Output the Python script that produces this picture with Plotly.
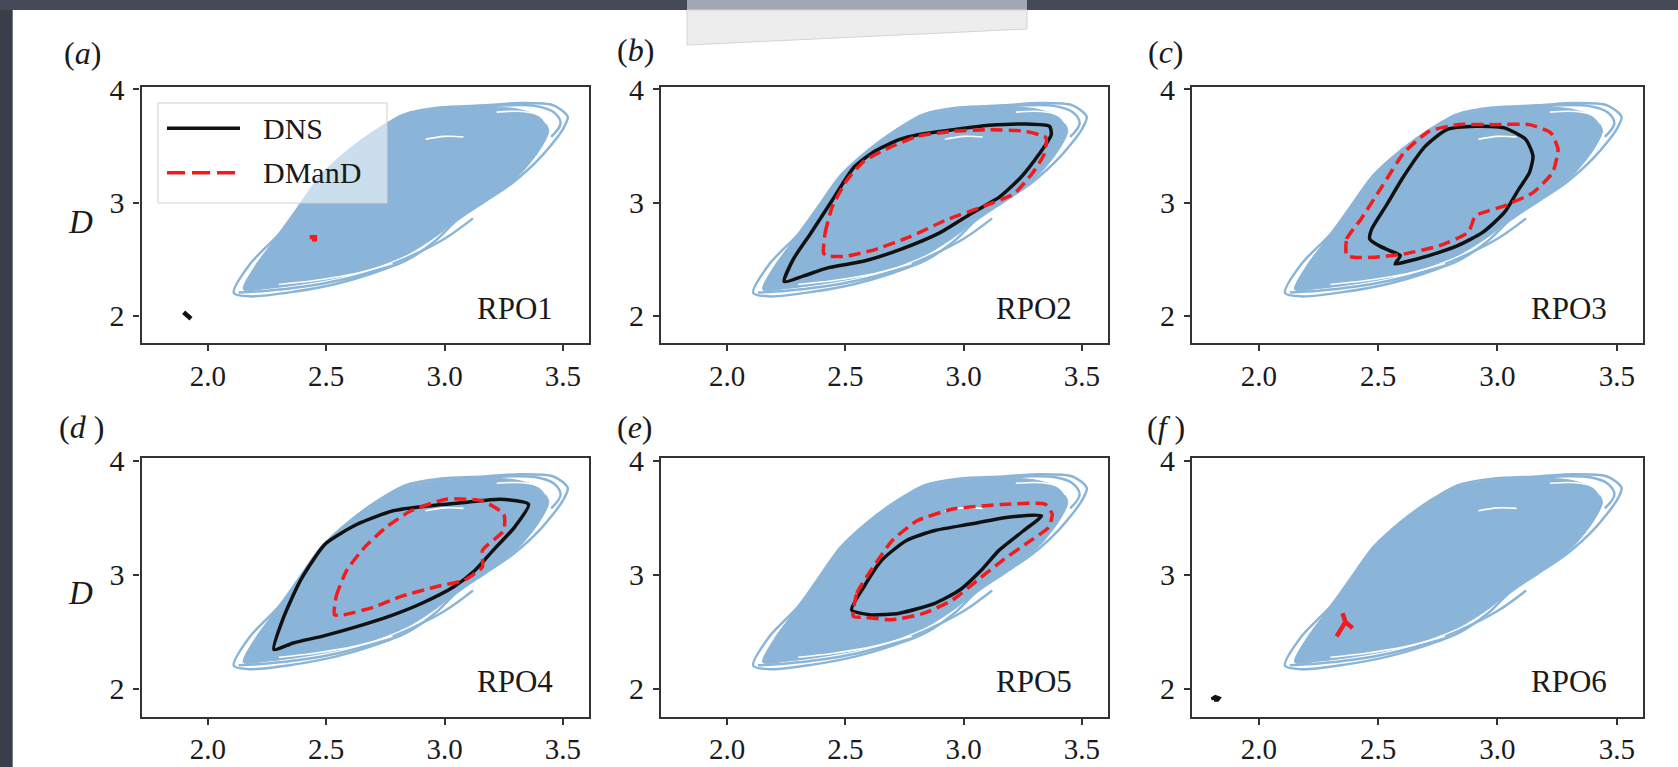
import plotly.graph_objects as go
from plotly.subplots import make_subplots

W, H = 1678, 767

# ---------------- data ----------------
X_TICKS = [2.0, 2.5, 3.0, 3.5]
X_TICK_TEXT = ["2.0", "2.5", "3.0", "3.5"]
Y_TICKS = [2, 3, 4]
Y_TICK_TEXT = ["2", "3", "4"]
X_RANGE = [1.72, 3.61]
Y_RANGE = [1.755, 4.022]

PANEL_LABELS = ["(<i>a</i>)", "(<i>b</i>)", "(<i>c</i>)", "(<i>d</i> )", "(<i>e</i>)", "(<i>f</i> )"]
RPO_NAMES = ["RPO1", "RPO2", "RPO3", "RPO4", "RPO5", "RPO6"]
SERIES_NAMES = ["DNS", "DManD"]

# chaotic DNS attractor (envelope, dense core, inner loops, white gaps)
ATTR_OUT_X = [2.11, 2.18, 2.30, 2.38, 2.48, 2.60, 2.72, 2.83, 2.98, 3.17, 3.32, 3.46, 3.52, 3.50, 3.41, 3.29, 3.17, 3.05, 2.96, 2.84, 2.69, 2.54, 2.36, 2.18, 2.11]
ATTR_OUT_Y = [2.20, 2.46, 2.72, 2.95, 3.24, 3.47, 3.65, 3.78, 3.84, 3.86, 3.88, 3.86, 3.76, 3.65, 3.41, 3.18, 3.01, 2.84, 2.66, 2.49, 2.37, 2.28, 2.21, 2.17, 2.20]
ATTR_CORE_X = [2.15, 2.20, 2.30, 2.38, 2.48, 2.60, 2.72, 2.83, 2.98, 3.15, 3.30, 3.40, 3.44, 3.40, 3.31, 3.19, 3.07, 2.97, 2.85, 2.71, 2.56, 2.40, 2.25, 2.15]
ATTR_CORE_Y = [2.23, 2.44, 2.72, 2.95, 3.24, 3.47, 3.65, 3.77, 3.83, 3.845, 3.83, 3.76, 3.64, 3.46, 3.23, 3.04, 2.88, 2.71, 2.55, 2.43, 2.34, 2.28, 2.24, 2.23]
ATTR_MID_X = [2.13, 2.25, 2.40, 2.55, 2.70, 2.85, 3.00, 3.12]
ATTR_MID_Y = [2.205, 2.22, 2.255, 2.31, 2.395, 2.52, 2.68, 2.86]
ATTR_LOBE_X = [3.12, 3.26, 3.38, 3.46, 3.49, 3.45]
ATTR_LOBE_Y = [3.835, 3.86, 3.855, 3.80, 3.70, 3.58]
GAP1_X = [3.22, 3.33, 3.40, 3.43]
GAP1_Y = [3.80, 3.805, 3.77, 3.70]
GAP2_X = [2.30, 2.45, 2.62, 2.78]
GAP2_Y = [2.275, 2.31, 2.37, 2.46]
GAP3_X = [2.92, 3.00, 3.08]
GAP3_Y = [3.56, 3.585, 3.58]

# periodic orbits: DNS (black) and DManD (red dashed), one pair per panel
DNS_A_X = [1.898, 1.910, 1.922, 1.929]
DNS_A_Y = [2.030, 2.012, 1.990, 1.972]
DMD_A_X = [2.440, 2.452, 2.452, 2.440, 2.440]
DMD_A_Y = [2.675, 2.675, 2.692, 2.692, 2.675]

DNS_B_X = [2.241, 2.279, 2.354, 2.444, 2.535, 2.625, 2.730, 2.806, 2.956, 3.107, 3.258, 3.363, 3.370, 3.318, 3.242, 3.152, 3.032, 2.896, 2.730, 2.580, 2.429, 2.324, 2.241]
DNS_B_Y = [2.300, 2.497, 2.730, 3.020, 3.310, 3.456, 3.558, 3.600, 3.645, 3.683, 3.695, 3.674, 3.600, 3.427, 3.224, 3.050, 2.904, 2.730, 2.584, 2.483, 2.424, 2.352, 2.300]
DMD_B_X = [2.407, 2.414, 2.444, 2.505, 2.580, 2.685, 2.806, 2.956, 3.107, 3.258, 3.348, 3.340, 3.288, 3.212, 3.077, 2.926, 2.776, 2.625, 2.505, 2.422, 2.407]
DMD_B_Y = [2.555, 2.730, 2.962, 3.195, 3.369, 3.485, 3.587, 3.631, 3.645, 3.631, 3.573, 3.427, 3.253, 3.078, 2.962, 2.846, 2.700, 2.584, 2.526, 2.526, 2.555]

DNS_C_X = [2.465, 2.473, 2.533, 2.608, 2.698, 2.788, 2.908, 3.029, 3.119, 3.149, 3.134, 3.089, 3.029, 2.938, 2.833, 2.713, 2.608, 2.571, 2.593, 2.548, 2.503, 2.465]
DNS_C_Y = [2.677, 2.765, 2.971, 3.235, 3.499, 3.645, 3.674, 3.660, 3.557, 3.410, 3.264, 3.117, 2.912, 2.736, 2.619, 2.531, 2.472, 2.457, 2.530, 2.575, 2.619, 2.677]
DMD_C_X = [2.368, 2.368, 2.428, 2.518, 2.608, 2.713, 2.833, 2.983, 3.134, 3.224, 3.254, 3.231, 3.149, 3.029, 2.908, 2.878, 2.758, 2.608, 2.488, 2.398, 2.368]
DMD_C_Y = [2.531, 2.677, 2.853, 3.147, 3.440, 3.630, 3.689, 3.689, 3.689, 3.616, 3.469, 3.264, 3.088, 2.971, 2.883, 2.736, 2.619, 2.545, 2.516, 2.516, 2.531]

DNS_D_X = [2.279, 2.316, 2.392, 2.497, 2.633, 2.783, 2.934, 3.084, 3.235, 3.355, 3.295, 3.205, 3.129, 3.039, 2.904, 2.783, 2.633, 2.482, 2.361, 2.279]
DNS_D_Y = [2.342, 2.603, 2.951, 3.270, 3.443, 3.559, 3.603, 3.632, 3.661, 3.617, 3.414, 3.212, 3.038, 2.893, 2.748, 2.646, 2.545, 2.458, 2.400, 2.342]
DMD_D_X = [2.535, 2.542, 2.587, 2.663, 2.753, 2.858, 3.009, 3.160, 3.250, 3.250, 3.160, 3.160, 3.084, 2.964, 2.813, 2.708, 2.572, 2.535]
DMD_D_Y = [2.646, 2.806, 3.038, 3.241, 3.414, 3.559, 3.661, 3.646, 3.530, 3.386, 3.212, 3.067, 2.951, 2.893, 2.806, 2.719, 2.646, 2.646]

DNS_E_X = [2.526, 2.578, 2.653, 2.758, 2.878, 3.029, 3.179, 3.329, 3.254, 3.149, 3.074, 2.983, 2.878, 2.728, 2.608, 2.526]
DNS_E_Y = [2.690, 2.893, 3.125, 3.299, 3.386, 3.443, 3.501, 3.516, 3.386, 3.212, 3.038, 2.864, 2.748, 2.661, 2.646, 2.690]
DMD_E_X = [2.533, 2.548, 2.608, 2.698, 2.803, 2.953, 3.179, 3.344, 3.374, 3.359, 3.284, 3.164, 3.059, 2.953, 2.833, 2.698, 2.578, 2.533]
DMD_E_Y = [2.632, 2.835, 3.038, 3.299, 3.472, 3.574, 3.617, 3.617, 3.530, 3.414, 3.299, 3.125, 2.951, 2.777, 2.661, 2.603, 2.626, 2.632]

DNS_F_X = [1.812, 1.826, 1.830, 1.818, 1.810, 1.812]
DNS_F_Y = [1.903, 1.903, 1.915, 1.924, 1.914, 1.903]
DMD_F_X = [2.326, 2.363, 2.351, 2.363, 2.393]
DMD_F_Y = [2.458, 2.585, 2.661, 2.585, 2.530]

DNS_X = [DNS_A_X, DNS_B_X, DNS_C_X, DNS_D_X, DNS_E_X, DNS_F_X]
DNS_Y = [DNS_A_Y, DNS_B_Y, DNS_C_Y, DNS_D_Y, DNS_E_Y, DNS_F_Y]
DMD_X = [DMD_A_X, DMD_B_X, DMD_C_X, DMD_D_X, DMD_E_X, DMD_F_X]
DMD_Y = [DMD_A_Y, DMD_B_Y, DMD_C_Y, DMD_D_Y, DMD_E_Y, DMD_F_Y]
SMALL = [True, False, False, False, False, True]

# ---------------- styling ----------------
BLUE = "#8ab5d8"
RED = "#f21c1c"
BLACK = "#111111"
FRAME = "#333333"
SERIF = "Liberation Serif, Times New Roman, serif"
DARK_BG = "#3a3e4b"
TXT = "#1a1a1a"


def px(x):
    return x / W


def py(y):
    return 1 - y / H


COL_DOM = [(141.5, 589.0), (661.0, 1108.0), (1192.0, 1643.0)]
ROW_DOM = [(87.0, 343.3), (458.0, 716.5)]

fig = make_subplots(rows=2, cols=3)


def line_trace(x, y, color, width, **extra):
    return go.Scatter(x=x, y=y, mode="lines", line=dict(color=color, width=width, **extra),
                      hoverinfo="skip", showlegend=False)


for i in range(6):
    r, c = i // 3 + 1, i % 3 + 1
    kw = dict(row=r, col=c)
    fig.add_trace(line_trace(ATTR_OUT_X, ATTR_OUT_Y, BLUE, 2.5, shape="spline", smoothing=0.8), **kw)
    fig.add_trace(line_trace(ATTR_MID_X, ATTR_MID_Y, BLUE, 2.5, shape="spline"), **kw)
    fig.add_trace(line_trace(ATTR_LOBE_X, ATTR_LOBE_Y, BLUE, 2.5, shape="spline"), **kw)
    fig.add_trace(go.Scatter(x=ATTR_CORE_X, y=ATTR_CORE_Y, mode="lines", fill="toself",
                             fillcolor=BLUE, line=dict(color=BLUE, width=1, shape="spline", smoothing=0.8),
                             hoverinfo="skip", showlegend=False), **kw)
    for gx, gy in ((GAP1_X, GAP1_Y), (GAP2_X, GAP2_Y), (GAP3_X, GAP3_Y)):
        fig.add_trace(line_trace(gx, gy, "white", 1.6, shape="spline"), **kw)
    if SMALL[i]:
        fig.add_trace(go.Scatter(x=DNS_X[i], y=DNS_Y[i], mode="lines", name=SERIES_NAMES[0],
                                 line=dict(color=BLACK, width=4.5), showlegend=False), **kw)
        fig.add_trace(go.Scatter(x=DMD_X[i], y=DMD_Y[i], mode="lines", name=SERIES_NAMES[1],
                                 line=dict(color=RED, width=4.5), showlegend=False), **kw)
    else:
        fig.add_trace(go.Scatter(x=DNS_X[i], y=DNS_Y[i], mode="lines", name=SERIES_NAMES[0],
                                 line=dict(color=BLACK, width=3.5, shape="spline", smoothing=0.6),
                                 showlegend=False), **kw)
        fig.add_trace(go.Scatter(x=DMD_X[i], y=DMD_Y[i], mode="lines", name=SERIES_NAMES[1],
                                 line=dict(color=RED, width=3.5, dash="12px,6px", shape="spline", smoothing=0.5),
                                 showlegend=False), **kw)

axis_common = dict(showgrid=False, zeroline=False, showline=True, mirror=True,
                   linecolor=FRAME, linewidth=2.2, ticks="outside", ticklen=6,
                   tickwidth=1.5, tickcolor=FRAME, automargin=False)

for i in range(6):
    r, c = i // 3, i % 3
    n = "" if i == 0 else str(i + 1)
    fig.layout["xaxis" + n].update(
        domain=[px(COL_DOM[c][0]), px(COL_DOM[c][1])], range=X_RANGE,
        tickvals=X_TICKS, ticktext=X_TICK_TEXT, ticklabelstandoff=0,
        tickfont=dict(family=SERIF, size=29, color=TXT), **axis_common)
    fig.layout["yaxis" + n].update(
        domain=[py(ROW_DOM[r][1]), py(ROW_DOM[r][0])], range=Y_RANGE,
        tickvals=Y_TICKS, ticktext=Y_TICK_TEXT, ticklabelstandoff=3,
        tickfont=dict(family=SERIF, size=30, color=TXT), **axis_common)

annotations = []
LABEL_POS = [(82, 53), (635, 50), (1166, 52), (81, 427), (635, 427), (1166, 427)]
for i in range(6):
    annotations.append(dict(x=px(LABEL_POS[i][0]), y=py(LABEL_POS[i][1]), xref="paper", yref="paper",
                            text=PANEL_LABELS[i], showarrow=False, xanchor="center", yanchor="middle",
                            font=dict(family=SERIF, size=32, color=TXT)))
    n = "" if i == 0 else str(i + 1)
    annotations.append(dict(x=0.925, y=0.135, xref="x" + n + " domain", yref="y" + n + " domain",
                            text=RPO_NAMES[i], showarrow=False, xanchor="right", yanchor="middle",
                            font=dict(family=SERIF, size=31, color=TXT)))
for yy in (222, 593):
    annotations.append(dict(x=px(80), y=py(yy), xref="paper", yref="paper", text="<i>D</i>",
                            showarrow=False, xanchor="center", yanchor="middle",
                            font=dict(family=SERIF, size=33, color=TXT)))

# legend drawn in panel (a)
annotations.append(dict(x=px(261), y=py(128), xref="paper", yref="paper", text=SERIES_NAMES[0],
                        showarrow=False, xanchor="left", yanchor="middle",
                        font=dict(family=SERIF, size=30, color=TXT)))
annotations.append(dict(x=px(261), y=py(173), xref="paper", yref="paper", text=SERIES_NAMES[1],
                        showarrow=False, xanchor="left", yanchor="middle",
                        font=dict(family=SERIF, size=30, color=TXT)))

shapes = [
    # white slide area
    dict(type="rect", xref="paper", yref="paper", x0=px(12.7), x1=1.0, y0=0.0, y1=py(10),
         fillcolor="white", line=dict(width=0), layer="below"),
    # top band
    dict(type="rect", xref="paper", yref="paper", x0=0, x1=1.0, y0=py(10), y1=1.0,
         fillcolor="#454958", line=dict(width=0), layer="below"),
    # grey tab
    dict(type="rect", xref="paper", yref="paper", x0=px(687), x1=px(1027), y0=py(10), y1=1.0,
         fillcolor="#a4a6b2", line=dict(width=0), layer="below"),
    dict(type="path", xref="paper", yref="paper",
         path=f"M {px(687)},{py(10)} L {px(1027)},{py(10)} L {px(1027)},{py(29)} L {px(687)},{py(45)} Z",
         fillcolor="#ededed", line=dict(color="#d4d4d4", width=1), layer="below"),
    # legend box
    dict(type="rect", xref="paper", yref="paper", x0=px(158), x1=px(387), y0=py(203), y1=py(103),
         fillcolor="rgba(255,255,255,0.55)", line=dict(color="#d0d0d0", width=1), layer="above"),
    dict(type="line", xref="paper", yref="paper", x0=px(167), x1=px(240), y0=py(128.3), y1=py(128.3),
         line=dict(color=BLACK, width=3.5), layer="above"),
    dict(type="line", xref="paper", yref="paper", x0=px(167), x1=px(240), y0=py(172.7), y1=py(172.7),
         line=dict(color=RED, width=3.5, dash="18px,7px"), layer="above"),
]

fig.update_layout(
    width=W, height=H, margin=dict(l=0, r=0, t=0, b=0, pad=0, autoexpand=False),
    paper_bgcolor=DARK_BG, plot_bgcolor="white",
    showlegend=False, annotations=annotations, shapes=shapes,
)

fig.write_html(
    "out.html",
    config={"displayModeBar": False},
    post_script="document.body.style.margin='0';document.body.style.background='" + DARK_BG + "';"
                "document.body.style.overflow='hidden';",
)
